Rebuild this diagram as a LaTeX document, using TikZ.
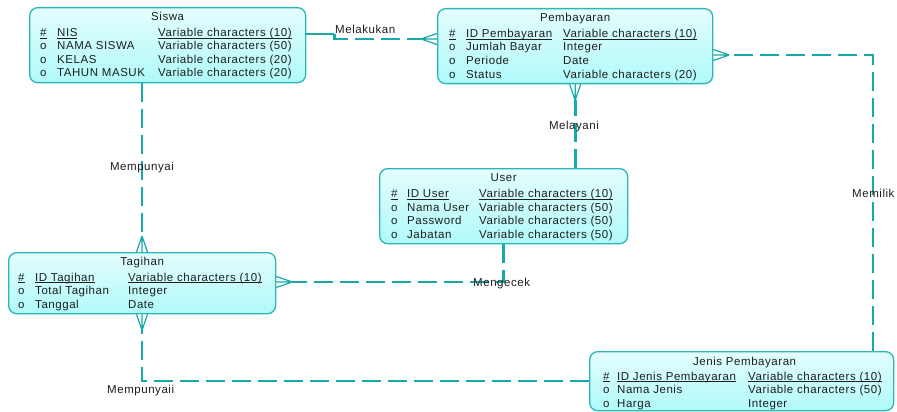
\documentclass[tikz,border=0pt]{standalone}
\usepackage{fontspec}
\setmainfont{Liberation Sans}[LetterSpace=4.8]
\usetikzlibrary{calc}

\definecolor{relcol}{RGB}{22,170,170}
\definecolor{entborder}{RGB}{44,182,182}
\definecolor{enttop}{RGB}{228,253,253}
\definecolor{entbot}{RGB}{176,250,250}
\definecolor{txtcol}{RGB}{30,30,30}

% underline at a fixed depth below the baseline
\newlength\ulwd
\newcommand\ulx[1]{\settowidth{\ulwd}{#1}\rlap{\rule[-2.2pt]{\ulwd}{0.8pt}}#1}

% crow's foot: #1 = point on the entity border, #2 = rotation (0 = opens to the west)
\newcommand\crowfoot[2]{\draw[foot, shift={(#1)}, rotate=#2] (-16,0) -- (0,-5.5) (-16,0) -- (0,0) (-16,0) -- (0,5.5);}

\begin{document}
\begin{tikzpicture}[x=1pt, y=-1pt,
  erfont/.style={font=\fontsize{11.5}{13}\selectfont, text=txtcol, inner sep=0pt},
  entity/.style={draw=entborder, line width=1.3pt, rounded corners=8pt,
    top color=enttop, bottom color=entbot, anchor=north west, inner sep=0pt},
  etitle/.style={erfont, anchor=base},
  attr/.style={erfont, anchor=base west},
  lbl/.style={erfont},
  rel/.style={draw=relcol, line width=2.8pt, dash pattern=on 19pt off 7pt},
  relsolid/.style={draw=relcol, line width=2.8pt},
  foot/.style={draw=relcol, line width=1.2pt}]

\useasboundingbox[fill=white] (0,0) rectangle (897,412);

% ---------------- entities ----------------
\node[entity, minimum width=276pt, minimum height=75pt] (siswa) at (29,7) {};
\node[entity, minimum width=275pt, minimum height=75pt] (pemb) at (437,8) {};
\node[entity, minimum width=248pt, minimum height=75pt] (user) at (379,168) {};
\node[entity, minimum width=267pt, minimum height=61pt] (tag) at (8,252) {};
\node[entity, minimum width=304pt, minimum height=59pt] (jenis) at (589,351) {};

% Siswa
\node[etitle] (siswaT) at ($(siswa.north)+(0,13.5)$) {Siswa};
\node[attr] (s1a) at ($(siswa.north west)+(11,29.5)$) {\ulx{\#}};
\node[attr] (s1b) at ($(siswa.north west)+(28,29.5)$) {\ulx{NIS}};
\node[attr] (s1c) at ($(siswa.north west)+(129,29.5)$) {\ulx{Variable characters (10)}};
\node[attr] (s2a) at ($(siswa.north west)+(11,43)$) {o};
\node[attr] (s2b) at ($(siswa.north west)+(28,43)$) {NAMA SISWA};
\node[attr] (s2c) at ($(siswa.north west)+(129,43)$) {Variable characters (50)};
\node[attr] (s3a) at ($(siswa.north west)+(11,56.5)$) {o};
\node[attr] (s3b) at ($(siswa.north west)+(28,56.5)$) {KELAS};
\node[attr] (s3c) at ($(siswa.north west)+(129,56.5)$) {Variable characters (20)};
\node[attr] (s4a) at ($(siswa.north west)+(11,70)$) {o};
\node[attr] (s4b) at ($(siswa.north west)+(28,70)$) {TAHUN MASUK};
\node[attr] (s4c) at ($(siswa.north west)+(129,70)$) {Variable characters (20)};

% Pembayaran
\node[etitle] (pembT) at ($(pemb.north)+(0,13.5)$) {Pembayaran};
\node[attr] (p1a) at ($(pemb.north west)+(12,29.5)$) {\ulx{\#}};
\node[attr] (p1b) at ($(pemb.north west)+(29,29.5)$) {\ulx{ID Pembayaran}};
\node[attr] (p1c) at ($(pemb.north west)+(126,29.5)$) {\ulx{Variable characters (10)}};
\node[attr] (p2a) at ($(pemb.north west)+(12,43)$) {o};
\node[attr] (p2b) at ($(pemb.north west)+(29,43)$) {Jumlah Bayar};
\node[attr] (p2c) at ($(pemb.north west)+(126,43)$) {Integer};
\node[attr] (p3a) at ($(pemb.north west)+(12,56.5)$) {o};
\node[attr] (p3b) at ($(pemb.north west)+(29,56.5)$) {Periode};
\node[attr] (p3c) at ($(pemb.north west)+(126,56.5)$) {Date};
\node[attr] (p4a) at ($(pemb.north west)+(12,70)$) {o};
\node[attr] (p4b) at ($(pemb.north west)+(29,70)$) {Status};
\node[attr] (p4c) at ($(pemb.north west)+(126,70)$) {Variable characters (20)};

% User
\node[etitle] (userT) at ($(user.north)+(0,13.5)$) {User};
\node[attr] (u1a) at ($(user.north west)+(12,29.5)$) {\ulx{\#}};
\node[attr] (u1b) at ($(user.north west)+(28,29.5)$) {\ulx{ID User}};
\node[attr] (u1c) at ($(user.north west)+(100,29.5)$) {\ulx{Variable characters (10)}};
\node[attr] (u2a) at ($(user.north west)+(12,43)$) {o};
\node[attr] (u2b) at ($(user.north west)+(28,43)$) {Nama User};
\node[attr] (u2c) at ($(user.north west)+(100,43)$) {Variable characters (50)};
\node[attr] (u3a) at ($(user.north west)+(12,56.5)$) {o};
\node[attr] (u3b) at ($(user.north west)+(28,56.5)$) {Password};
\node[attr] (u3c) at ($(user.north west)+(100,56.5)$) {Variable characters (50)};
\node[attr] (u4a) at ($(user.north west)+(12,70)$) {o};
\node[attr] (u4b) at ($(user.north west)+(28,70)$) {Jabatan};
\node[attr] (u4c) at ($(user.north west)+(100,70)$) {Variable characters (50)};

% Tagihan
\node[etitle] (tagT) at ($(tag.north)+(0,13)$) {Tagihan};
\node[attr] (t1a) at ($(tag.north west)+(10,29)$) {\ulx{\#}};
\node[attr] (t1b) at ($(tag.north west)+(27,29)$) {\ulx{ID Tagihan}};
\node[attr] (t1c) at ($(tag.north west)+(120,29)$) {\ulx{Variable characters (10)}};
\node[attr] (t2a) at ($(tag.north west)+(10,42.5)$) {o};
\node[attr] (t2b) at ($(tag.north west)+(27,42.5)$) {Total Tagihan};
\node[attr] (t2c) at ($(tag.north west)+(120,42.5)$) {Integer};
\node[attr] (t3a) at ($(tag.north west)+(10,56)$) {o};
\node[attr] (t3b) at ($(tag.north west)+(27,56)$) {Tanggal};
\node[attr] (t3c) at ($(tag.north west)+(120,56)$) {Date};

% Jenis Pembayaran
\node[etitle] (jenisT) at ($(jenis.north)+(3,14)$) {Jenis Pembayaran};
\node[attr] (j1a) at ($(jenis.north west)+(14,29)$) {\ulx{\#}};
\node[attr] (j1b) at ($(jenis.north west)+(28,29)$) {\ulx{ID Jenis Pembayaran}};
\node[attr] (j1c) at ($(jenis.north west)+(159,29)$) {\ulx{Variable characters (10)}};
\node[attr] (j2a) at ($(jenis.north west)+(14,42.5)$) {o};
\node[attr] (j2b) at ($(jenis.north west)+(28,42.5)$) {Nama Jenis};
\node[attr] (j2c) at ($(jenis.north west)+(159,42.5)$) {Variable characters (50)};
\node[attr] (j3a) at ($(jenis.north west)+(14,56)$) {o};
\node[attr] (j3b) at ($(jenis.north west)+(28,56)$) {Harga};
\node[attr] (j3c) at ($(jenis.north west)+(159,56)$) {Integer};

% ---------------- attachment points ----------------
\coordinate (siswaE) at ($(siswa.north east)+(0,27)$);
\coordinate (pembW)  at ($(pemb.north west)+(0,31)$);
\coordinate (mkBend) at ($(siswaE)+(28,0)$);
\coordinate (siswaB) at ($(siswa.south west)+(113,0)$);
\coordinate (tagTop) at ($(tag.north west)+(134,0)$);
\coordinate (pembB)  at (pemb.south);
\coordinate (userTop) at (user.north -| pemb.south);
\coordinate (pembE)  at ($(pemb.north east)+(0,47)$);
\coordinate (jenisTop) at ($(jenis.north west)+(284,0)$);
\coordinate (userB)  at (user.south);
\coordinate (tagE)   at ($(tag.north east)+(0,30)$);
\coordinate (tagB)   at ($(tag.south west)+(134,0)$);
\coordinate (jenisW) at ($(jenis.north west)+(0,30)$);

% ---------------- relationships ----------------
% Melakukan
\draw[relsolid] (siswaE) -- (mkBend);
\draw[rel] (mkBend) -- ++(0,5) -- ($(pembW)+(-16,0)$);
\crowfoot{pembW}{0}
% Mempunyai
\draw[rel] (siswaB) -- ($(tagTop)+(0,-16)$);
\crowfoot{tagTop}{-90}
% Melayani
\draw[rel] (userTop) -- ($(pembB)+(0,16)$);
\crowfoot{pembB}{90}
% Memilik
\draw[rel] (jenisTop) |- ($(pembE)+(16,0)$);
\crowfoot{pembE}{180}
% Mengecek
\draw[rel] (userB) |- ($(tagE)+(16,0)$);
\crowfoot{tagE}{180}
% Mempunyaii
\draw[rel] (jenisW) -| ($(tagB)+(0,16)$);
\crowfoot{tagB}{90}

% ---------------- relationship names ----------------
\node[lbl, anchor=base west] (lMelakukan) at (335,34) {Melakukan};
\node[lbl, anchor=base] (lMempunyai) at (142,170) {Mempunyai};
\node[lbl, anchor=base] (lMelayani) at (574,129) {Melayani};
\node[lbl, anchor=base west] (lMemilik) at (852,197) {Memilik};
\node[lbl, anchor=base west] (lMengecek) at (473,286) {Mengecek};
\node[lbl, anchor=base west] (lMempunyaii) at (107,393) {Mempunyaii};

\end{tikzpicture}
\end{document}
